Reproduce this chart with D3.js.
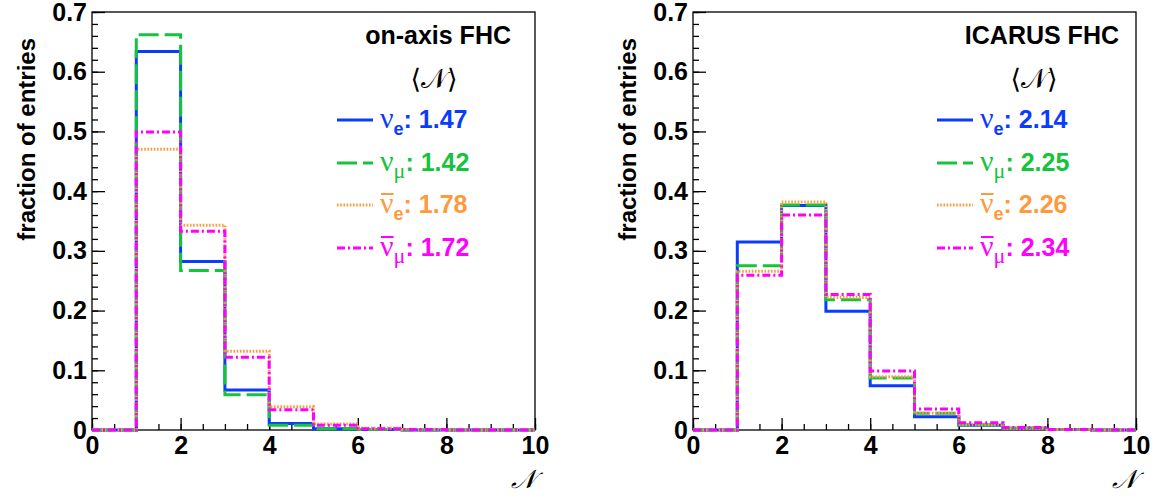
<!DOCTYPE html>
<html>
<head>
<script src="https://cdn.jsdelivr.net/npm/d3@7"></script>
<style>
    body { margin: 0; background: white; }
    svg { display: block; }
    .tick text { font-family: "Liberation Sans", Arial, sans-serif; font-weight: bold; font-size: 25px; fill: black; }
    .bold { font-family: "Liberation Sans", Arial, sans-serif; font-weight: bold; }
</style>
</head>
<body>
<script>
    // bin edges and tick values
    var binEdges = [0, 1, 2, 3, 4, 5, 6, 7, 8, 9, 10];
    var xTicks = [0, 2, 4, 6, 8, 10];
    var yTicks = [0, 0.1, 0.2, 0.3, 0.4, 0.5, 0.6, 0.7];

    // on-axis FHC, fraction of entries per bin
    var onAxisNue    = [0, 0.634, 0.282, 0.067, 0.011, 0.002, 0.001, 0, 0, 0];
    var onAxisNumu   = [0, 0.662, 0.267, 0.059, 0.008, 0.002, 0.001, 0, 0, 0];
    var onAxisNuebar = [0, 0.470, 0.343, 0.132, 0.039, 0.010, 0.003, 0.001, 0, 0];
    var onAxisNumubar= [0, 0.499, 0.333, 0.122, 0.034, 0.008, 0.002, 0.001, 0, 0];
    var onAxisMeans  = ["1.47", "1.42", "1.78", "1.72"];

    // ICARUS FHC
    var icarusNue    = [0, 0.315, 0.376, 0.199, 0.074, 0.022, 0.008, 0.003, 0.001, 0];
    var icarusNumu   = [0, 0.275, 0.377, 0.218, 0.087, 0.028, 0.009, 0.003, 0.001, 0];
    var icarusNuebar = [0, 0.266, 0.382, 0.222, 0.089, 0.028, 0.009, 0.003, 0.001, 0];
    var icarusNumubar= [0, 0.259, 0.360, 0.227, 0.099, 0.035, 0.012, 0.004, 0.001, 0];
    var icarusMeans  = ["2.14", "2.25", "2.26", "2.34"];

    var panelTitles = ["on-axis FHC", "ICARUS FHC"];

    // series styles: nu_e, nu_mu, anti nu_e, anti nu_mu
    var colors = ["#0a3cff", "#14c43c", "#ff9a3c", "#ff00ff"];
    var dashes = [null, "20,6", "1.6,1.6", "8,3,2,3"];
    var flavours = ["e", "μ", "e", "μ"];
    var bars = [false, false, true, true];

    var W = 1163, H = 498;
    var svg = d3.select("body").append("svg").attr("width", W).attr("height", H);

    // frame geometry (pixels)
    var frameW = 443, frameTop = 12, frameBottom = 430;
    var panels = [
        {x0: 92, titleRight: 511, legendX: 337, series: [onAxisNue, onAxisNumu, onAxisNuebar, onAxisNumubar], means: onAxisMeans},
        {x0: 693, titleRight: 1119, legendX: 937, series: [icarusNue, icarusNumu, icarusNuebar, icarusNumubar], means: icarusMeans}
    ];

    panels.forEach(function (p, pi) {
        var x = d3.scaleLinear().domain([0, 10]).range([p.x0, p.x0 + frameW]);
        var y = d3.scaleLinear().domain([0, 0.7]).range([frameBottom, frameTop]);
        var g = svg.append("g");

        // frame
        g.append("rect")
            .attr("x", p.x0).attr("y", frameTop)
            .attr("width", frameW).attr("height", frameBottom - frameTop)
            .attr("fill", "none").attr("stroke", "black").attr("stroke-width", 1.3);

        // minor ticks
        g.append("g").attr("transform", "translate(" + p.x0 + ",0)")
            .call(d3.axisLeft(y).tickValues(d3.range(0, 36).map(function (i) { return i * 0.02; }))
                .tickSize(-6).tickFormat(""))
            .call(function (a) { a.select(".domain").remove(); });
        g.append("g").attr("transform", "translate(0," + frameBottom + ")")
            .call(d3.axisBottom(x).tickValues(d3.range(0, 21).map(function (i) { return i * 0.5; }))
                .tickSize(-6).tickFormat(""))
            .call(function (a) { a.select(".domain").remove(); });

        // major ticks with labels
        g.append("g").attr("transform", "translate(" + p.x0 + ",0)")
            .call(d3.axisLeft(y).tickValues(yTicks).tickSize(-13).tickPadding(5)
                .tickFormat(function (d) { return d === 0 ? "0" : d.toFixed(1); }))
            .call(function (a) { a.select(".domain").remove(); });
        g.append("g").attr("transform", "translate(0," + frameBottom + ")")
            .call(d3.axisBottom(x).tickValues(xTicks).tickSize(-12).tickPadding(6)
                .tickFormat(d3.format("d")))
            .call(function (a) { a.select(".domain").remove(); });
        g.selectAll(".tick line").attr("stroke", "black").attr("stroke-width", 1.3);

        // histograms
        var line = d3.line()
            .x(function (d) { return x(d[0]); })
            .y(function (d) { return y(d[1]); })
            .curve(d3.curveStepAfter);
        p.series.forEach(function (vals, si) {
            var pts = binEdges.map(function (e, i) { return [e, vals[Math.min(i, vals.length - 1)]]; });
            g.append("path")
                .datum(pts)
                .attr("d", line)
                .attr("fill", "none")
                .attr("stroke", colors[si])
                .attr("stroke-width", 3)
                .attr("stroke-dasharray", dashes[si]);
        });

        // y title
        g.append("text").attr("class", "bold")
            .attr("transform", "translate(" + (p.x0 - 57) + ",38) rotate(-90)")
            .attr("text-anchor", "end")
            .attr("font-size", 24)
            .text("fraction of entries");

        // x title
        g.append("text")
            .attr("x", p.x0 + frameW - 12).attr("y", 488)
            .attr("text-anchor", "middle")
            .attr("font-family", "DejaVu Serif, serif").attr("font-style", "italic")
            .attr("font-size", 26)
            .text("𝒩");

        // panel title
        g.append("text").attr("class", "bold")
            .attr("x", p.titleRight).attr("y", 44)
            .attr("text-anchor", "end")
            .attr("font-size", 25)
            .text(panelTitles[pi]);

        g.append("text")
            .attr("x", p.legendX + 97).attr("y", 88)
            .attr("text-anchor", "middle")
            .attr("font-family", "DejaVu Serif, serif")
            .attr("font-size", 27)
            .text("⟨𝒩⟩");

        // legend
        var rowY = [120, 163, 205, 248];
        rowY.forEach(function (ry, i) {
            g.append("line")
                .attr("x1", p.legendX).attr("x2", p.legendX + 36)
                .attr("y1", ry).attr("y2", ry)
                .attr("stroke", colors[i]).attr("stroke-width", 3)
                .attr("stroke-dasharray", dashes[i]);
            var tx = p.legendX + 43, base = ry + 8;
            var nu = g.append("text")
                .attr("x", tx).attr("y", base)
                .attr("font-family", "Liberation Serif, serif")
                .attr("font-size", 30)
                .attr("fill", colors[i])
                .text("ν");
            var nw = nu.node().getComputedTextLength();
            if (bars[i]) {
                g.append("line")
                    .attr("x1", tx + 1).attr("x2", tx + nw)
                    .attr("y1", base - 19).attr("y2", base - 19)
                    .attr("stroke", colors[i]).attr("stroke-width", 2);
            }
            var sub = g.append("text")
                .attr("x", tx + nw).attr("y", base + 7)
                .attr("fill", colors[i]);
            if (flavours[i] === "e") {
                sub.attr("class", "bold").attr("font-size", 18).text("e");
            } else {
                sub.attr("font-family", "Liberation Serif, serif").attr("font-size", 22).text("μ");
            }
            var sw = sub.node().getComputedTextLength();
            g.append("text").attr("class", "bold")
                .attr("x", tx + nw + sw).attr("y", base)
                .attr("font-size", 25)
                .attr("fill", colors[i])
                .text(": " + p.means[i]);
        });
    });
</script>
</body>
</html>
